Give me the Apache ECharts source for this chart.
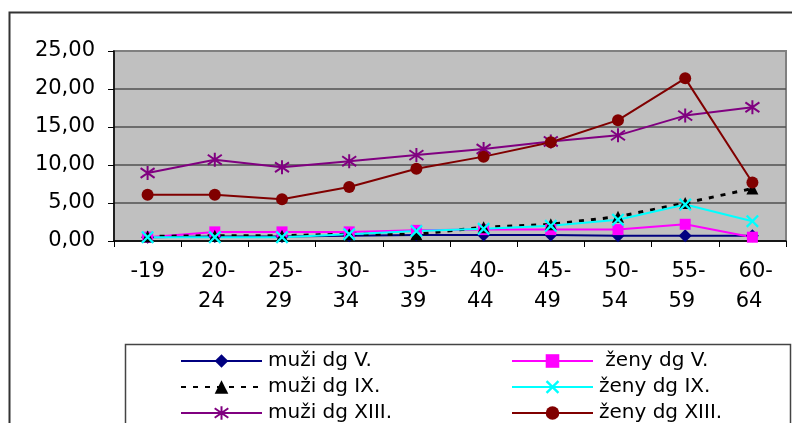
<!DOCTYPE html>
<html>
<head>
<meta charset="utf-8">
<script src="https://cdn.jsdelivr.net/npm/echarts@6/dist/echarts.min.js"></script>
<style>
  html, body { margin: 0; padding: 0; background: #fff; }
  #chart { width: 792px; height: 423px; }
</style>
</head>
<body>
<div id="chart"></div>
<script>
// Age groups (x axis); the spaces keep the wrapped lines staggered like the original layout
const ageGroups = ['-19', ' 20-\n24 ', ' 25-\n29 ', ' 30-\n34 ', ' 35-\n39 ', ' 40-\n44 ', ' 45-\n49 ', ' 50-\n54 ', ' 55-\n59 ', ' 60-\n64 '];

// Rates by diagnosis group and sex
const muziV    = [0.5, 0.6, 0.6, 0.7, 0.8, 0.8, 0.8, 0.7, 0.7, 0.7];
const zenyV    = [0.5, 1.2, 1.2, 1.2, 1.4, 1.5, 1.5, 1.5, 2.2, 0.5];
const muziIX   = [0.6, 0.7, 0.7, 0.9, 0.9, 1.8, 2.2, 3.2, 5.0, 6.9];
const zenyIX   = [0.5, 0.5, 0.5, 0.9, 1.3, 1.6, 2.0, 2.8, 4.8, 2.6];
const muziXIII = [8.95, 10.7, 9.7, 10.5, 11.3, 12.1, 13.1, 13.9, 16.5, 17.6];
const zenyXIII = [6.1, 6.1, 5.5, 7.1, 9.5, 11.1, 13.0, 15.9, 21.4, 7.7];

// Legend entries, two columns
const legendMuzi = ['muži dg V.', 'muži dg IX.', 'muži dg XIII.'];
const legendZeny = [' ženy dg V.', 'ženy dg IX.', 'ženy dg XIII.'];

const FONT = 'DejaVu Sans';

// Marker shapes
const xMark = 'path://M0,2.5L2.5,0L10,7.5L17.5,0L20,2.5L12.5,10L20,17.5L17.5,20L10,12.5L2.5,20L0,17.5L7.5,10Z';
const starMark = 'path://M10,0L10,20M0,3L20,17M20,3L0,17';

function lineSeries(name, data, color, symbol, size, extra) {
  return Object.assign({
    name: name,
    type: 'line',
    data: data,
    symbol: symbol,
    symbolSize: size,
    showSymbol: true,
    lineStyle: { color: color, width: 2 },
    itemStyle: { color: color },
    emphasis: { disabled: true },
    animation: false
  }, extra || {});
}

const series = [
  lineSeries(legendMuzi[0], muziV, '#000080', 'diamond', 13),
  lineSeries(legendZeny[0], zenyV, '#ff00ff', 'rect', 11),
  lineSeries(legendMuzi[1], muziIX, '#000000', 'triangle', 12, {
    lineStyle: { color: '#000000', width: 3, type: [5, 7] }
  }),
  lineSeries(legendZeny[1], zenyIX, '#00ffff', xMark, 13),
  lineSeries(legendMuzi[2], muziXIII, '#800080', starMark, 14, {
    itemStyle: { color: 'rgba(0,0,0,0)', borderColor: '#800080', borderWidth: 2 }
  }),
  lineSeries(legendZeny[2], zenyXIII, '#800000', 'circle', 12)
];

const legendCommon = {
  orient: 'vertical',
  top: 351,
  height: 90,
  padding: 0,
  itemWidth: 81,
  itemHeight: 17,
  itemGap: 6,
  textStyle: { fontFamily: FONT, fontSize: 20, lineHeight: 20, color: '#000', padding: [0, 0, 0, 1] },
  selectedMode: false,
  z: 10
};

const chart = echarts.init(document.getElementById('chart'), null, { renderer: 'canvas' });
chart.setOption({
  animation: false,
  backgroundColor: '#ffffff',
  grid: {
    left: 114, top: 51, right: 6, bottom: 182,
    show: true,
    backgroundColor: '#c0c0c0',
    borderColor: '#808080',
    borderWidth: 2
  },
  xAxis: {
    type: 'category',
    data: ageGroups,
    boundaryGap: true,
    axisLine: { lineStyle: { color: '#000', width: 1.5 } },
    axisTick: { show: true, length: 6, lineStyle: { color: '#000', width: 1 } },
    axisLabel: {
      color: '#000', fontFamily: FONT, fontSize: 21, margin: 16,
      lineHeight: 30, interval: 0
    },
    splitLine: { show: false }
  },
  yAxis: {
    type: 'value',
    min: 0, max: 25, interval: 5,
    axisLine: { show: true, lineStyle: { color: '#000', width: 1.5 } },
    axisTick: { show: true, length: 6, lineStyle: { color: '#000', width: 1 } },
    axisLabel: {
      color: '#000', fontFamily: FONT, fontSize: 21, margin: 19,
      formatter: v => v.toFixed(2).replace('.', ',')
    },
    splitLine: { show: true, showMaxLine: false, lineStyle: { color: '#505050', width: 1.5 } }
  },
  legend: [
    Object.assign({}, legendCommon, { left: 180, data: legendMuzi }),
    Object.assign({}, legendCommon, { left: 511, data: legendZeny })
  ],
  graphic: [
    {
      type: 'rect', z: 0, silent: true,
      shape: { x: 9.5, y: 12.5, width: 820, height: 500 },
      style: { fill: 'none', stroke: '#333333', lineWidth: 2 }
    },
    {
      type: 'rect', z: 1, silent: true,
      shape: { x: 125.5, y: 344.5, width: 665, height: 200 },
      style: { fill: '#ffffff', stroke: '#444444', lineWidth: 1.5 }
    }
  ],
  series: series
});
</script>
</body>
</html>
